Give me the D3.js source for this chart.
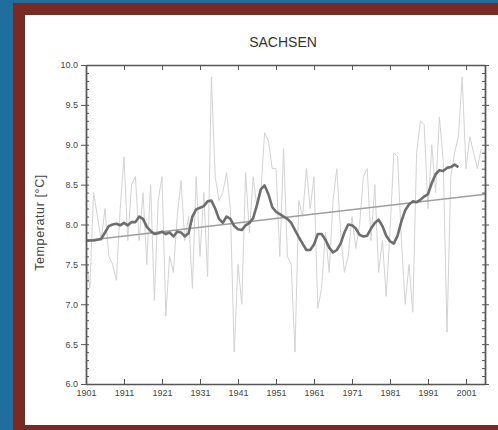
<!DOCTYPE html>
<html>
<head>
<meta charset="utf-8">
<script src="https://cdn.jsdelivr.net/npm/d3@7"></script>
<style>
  html, body { margin: 0; padding: 0; background: #1f6e9e; }
  svg { display: block; }
</style>
</head>
<body>
<svg id="chart" width="498" height="430"></svg>
<script>
// Annual mean air temperature, Saxony (°C)
const years = d3.range(1901, 2006);
const annualTemp = [
  7.6, 7.2, 8.4, 8.1, 7.8, 8.2, 7.6, 7.5, 7.3, 8.2,
  8.85, 7.8, 8.5, 8.6, 7.8, 8.4, 7.5, 8.5, 7.05, 8.3,
  8.6, 6.85, 7.6, 7.4, 8.1, 8.55, 7.8, 8.1, 7.2, 8.6,
  7.6, 8.4, 7.35, 9.85, 8.6, 8.3, 8.4, 8.65, 8.2, 6.4,
  7.5, 7.0, 8.65, 7.9, 8.6, 8.2, 8.4, 9.15, 9.05, 8.7,
  8.7, 7.6, 8.95, 7.6, 7.5, 6.4, 8.3, 8.1, 8.7, 8.2,
  8.6, 6.95, 7.2, 7.9, 7.4, 8.3, 8.7, 7.9, 7.4, 7.6,
  8.1, 7.7, 8.0, 8.6, 8.7, 7.8, 8.5, 7.4, 7.8, 7.1,
  7.9, 8.9, 8.85, 7.8, 7.0, 7.5, 6.9, 8.9, 9.3, 9.25,
  8.2, 9.0, 8.4, 9.35, 8.8, 6.65, 8.6, 8.9, 9.1, 9.85,
  8.7, 9.1, 8.9, 8.7, 8.95
];

// Smoothed curve, 1901-1999
const smoothYears = d3.range(1901, 2000);
const smoothTemp = [
  7.80, 7.80, 7.80, 7.81, 7.82, 7.90, 7.98, 8.00, 8.01, 7.99,
  8.02, 7.99, 8.03, 8.03, 8.10, 8.07, 7.97, 7.92, 7.88, 7.89,
  7.91, 7.88, 7.90, 7.85, 7.91, 7.90, 7.85, 7.89, 8.10, 8.19,
  8.21, 8.23, 8.29, 8.30, 8.20, 8.07, 8.02, 8.10, 8.07, 7.98,
  7.94, 7.93, 7.99, 8.02, 8.08, 8.25, 8.44, 8.49, 8.38, 8.22,
  8.16, 8.13, 8.10, 8.07, 8.02, 7.93, 7.84, 7.76, 7.68, 7.68,
  7.75, 7.88, 7.88, 7.81, 7.71, 7.65, 7.68, 7.76, 7.90, 8.00,
  7.99, 7.95, 7.87, 7.85, 7.86, 7.95, 8.02, 8.06, 7.98, 7.86,
  7.79, 7.76, 7.86, 8.04, 8.18, 8.25, 8.29, 8.28, 8.31, 8.35,
  8.38, 8.52, 8.63, 8.68, 8.67, 8.71, 8.72, 8.75, 8.72
];

// Linear trend, start and end of the period
const trendYears = [1901, 2006];
const trendTemp = [7.80, 8.38];

// Axis ticks
const xTickYears = d3.range(1901, 2002, 10);
const yMajorTicks = d3.range(6, 10.01, 0.5);
const yMinorTicks = d3.range(6, 10.001, 0.1);

(function draw() {
  const svg = d3.select("#chart");

  // Background frame and white panel
  svg.append("rect").attr("x", 0).attr("y", 0).attr("width", 498).attr("height", 430)
    .attr("fill", "#1f6e9e");
  svg.append("rect").attr("x", 13).attr("y", 3).attr("width", 485).attr("height", 427)
    .attr("fill", "#7a2a24");
  svg.append("rect").attr("x", 25).attr("y", 15).attr("width", 473).attr("height", 410)
    .attr("fill", "#ffffff");

  const plotLeft = 86, plotRight = 485, plotTop = 65, plotBottom = 384;
  const x = d3.scaleLinear().domain([1901, 2006]).range([plotLeft, plotRight]);
  const y = d3.scaleLinear().domain([6, 10]).range([plotBottom, plotTop]);

  const axisColor = "#555";
  const labelColor = "#444";
  const font = "'Liberation Sans', Arial, sans-serif";

  // Annual series
  svg.append("path")
    .datum(years.map((yr, i) => [yr, annualTemp[i]]))
    .attr("fill", "none")
    .attr("stroke", "#d3d3d3")
    .attr("stroke-width", 1)
    .attr("d", d3.line().x(d => x(d[0])).y(d => y(d[1])));

  // Linear trend
  svg.append("path")
    .datum(trendYears.map((yr, i) => [yr, trendTemp[i]]))
    .attr("fill", "none")
    .attr("stroke", "#9e9e9e")
    .attr("stroke-width", 1.4)
    .attr("d", d3.line().x(d => x(d[0])).y(d => y(d[1])));

  // Smoothed curve
  svg.append("path")
    .datum(smoothYears.map((yr, i) => [yr, smoothTemp[i]]))
    .attr("fill", "none")
    .attr("stroke", "#6e6e6e")
    .attr("stroke-width", 2.6)
    .attr("stroke-linejoin", "round")
    .attr("d", d3.line().x(d => x(d[0])).y(d => y(d[1])));

  function styleAxis(g) {
    g.select(".domain").attr("stroke", axisColor).attr("stroke-width", 1.4);
    g.selectAll(".tick line").attr("stroke", axisColor).attr("stroke-width", 1);
    g.selectAll(".tick text").attr("fill", labelColor)
      .style("font-family", font).style("font-size", "9px");
  }

  // Bottom axis with labels, ticks pointing inward
  svg.append("g")
    .attr("transform", `translate(0,${plotBottom})`)
    .call(d3.axisBottom(x).tickValues(xTickYears).tickFormat(d3.format("d"))
      .tickSizeInner(-5).tickSizeOuter(0).tickPadding(6))
    .call(styleAxis);

  // Top axis, ticks only
  svg.append("g")
    .attr("transform", `translate(0,${plotTop})`)
    .call(d3.axisTop(x).tickValues(xTickYears).tickFormat("")
      .tickSizeInner(-5).tickSizeOuter(0))
    .call(styleAxis);

  // Left axis: minor ticks, then labelled major ticks
  svg.append("g")
    .attr("transform", `translate(${plotLeft},0)`)
    .call(d3.axisLeft(y).tickValues(yMinorTicks).tickFormat("")
      .tickSizeInner(-3).tickSizeOuter(0))
    .call(styleAxis);
  svg.append("g")
    .attr("transform", `translate(${plotLeft},0)`)
    .call(d3.axisLeft(y).tickValues(yMajorTicks).tickFormat(d3.format(".1f"))
      .tickSizeInner(5).tickSizeOuter(0).tickPadding(3))
    .call(styleAxis);

  // Right axis: minor and major ticks
  svg.append("g")
    .attr("transform", `translate(${plotRight},0)`)
    .call(d3.axisRight(y).tickValues(yMinorTicks).tickFormat("")
      .tickSizeInner(-3).tickSizeOuter(0))
    .call(styleAxis);
  svg.append("g")
    .attr("transform", `translate(${plotRight},0)`)
    .call(d3.axisRight(y).tickValues(yMajorTicks).tickFormat("")
      .tickSizeInner(4).tickSizeOuter(0))
    .call(styleAxis);

  // Title
  svg.append("text")
    .attr("x", 283).attr("y", 47)
    .attr("text-anchor", "middle")
    .attr("fill", "#333")
    .style("font-family", font).style("font-size", "14px")
    .text("SACHSEN");

  // Y axis title
  svg.append("text")
    .attr("transform", `translate(44,${(plotTop + plotBottom) / 2 - 2}) rotate(-90)`)
    .attr("text-anchor", "middle")
    .attr("fill", labelColor)
    .style("font-family", font).style("font-size", "12.5px")
    .style("letter-spacing", "0.6px")
    .text("Temperatur [°C]");
})();
</script>
</body>
</html>
